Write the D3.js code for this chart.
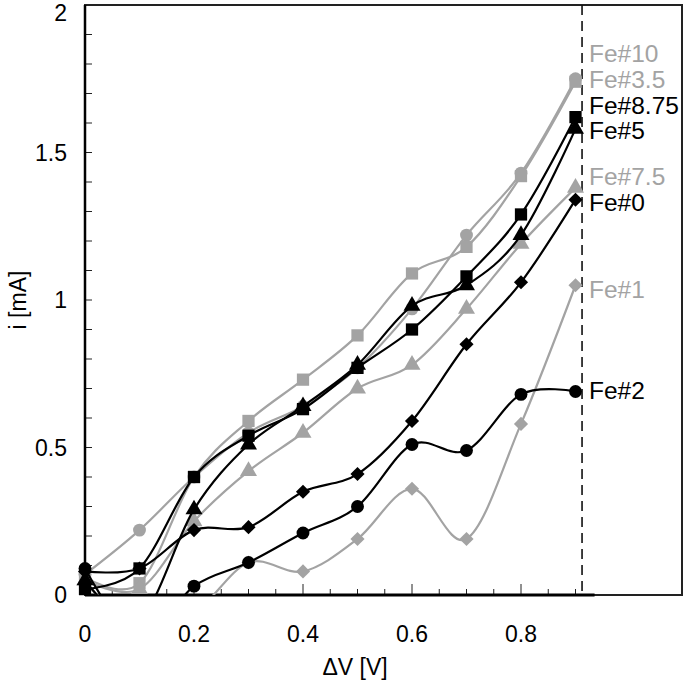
<!DOCTYPE html>
<html><head><meta charset="utf-8">
<script src="https://cdn.jsdelivr.net/npm/d3@7"></script>
<style>body{margin:0;background:#fff}svg{display:block}text{font-family:"Liberation Sans",Arial,sans-serif}</style>
</head><body><svg id="c" width="685" height="683"></svg>
<script>
const xVals = [0, 0.1, 0.2, 0.3, 0.4, 0.5, 0.6, 0.7, 0.8, 0.9];
const fe10  = [0.07, 0.22, 0.40, 0.55, 0.64, 0.77, 0.97, 1.22, 1.43, 1.75];
const fe35  = [0.06, 0.04, 0.40, 0.59, 0.73, 0.88, 1.09, 1.18, 1.42, 1.74];
const fe75  = [0.05, 0.02, 0.25, 0.42, 0.55, 0.70, 0.78, 0.97, 1.19, 1.38];
const fe1   = [0.04, -0.10, -0.06, 0.11, 0.08, 0.19, 0.36, 0.19, 0.58, 1.05];
const fe875 = [0.02, 0.09, 0.40, 0.54, 0.63, 0.77, 0.90, 1.08, 1.29, 1.62];
const fe5   = [0.05, -0.08, 0.29, 0.51, 0.64, 0.78, 0.98, 1.05, 1.22, 1.58];
const fe0   = [0.08, 0.09, 0.22, 0.23, 0.35, 0.41, 0.59, 0.85, 1.06, 1.34];
const fe2   = [0.09, -0.15, 0.03, 0.11, 0.21, 0.30, 0.51, 0.49, 0.68, 0.69];
const seriesNames = ["Fe#10","Fe#3.5","Fe#7.5","Fe#1","Fe#8.75","Fe#5","Fe#0","Fe#2"];
const xTickLabels = [0, 0.2, 0.4, 0.6, 0.8];
const yTickLabels = [0, 0.5, 1, 1.5, 2];
const cutoffV = 0.912;

const GRAY = "#a3a3a3", BLACK = "#000";
const series = [
  {name:seriesNames[0], vals:fe10, color:GRAY, shape:"circle", labelY:53},
  {name:seriesNames[1], vals:fe35, color:GRAY, shape:"square", labelY:79},
  {name:seriesNames[2], vals:fe75, color:GRAY, shape:"triangle", labelY:176},
  {name:seriesNames[3], vals:fe1, color:GRAY, shape:"diamond", labelY:289},
  {name:seriesNames[4], vals:fe875, color:BLACK, shape:"square", labelY:105},
  {name:seriesNames[5], vals:fe5, color:BLACK, shape:"triangle", labelY:130},
  {name:seriesNames[6], vals:fe0, color:BLACK, shape:"diamond", labelY:202},
  {name:seriesNames[7], vals:fe2, color:BLACK, shape:"circle", labelY:390}
];

const L = 85, R = 682, T = 5, B = 595;
const x = d3.scaleLinear().domain([0, (R - L) / 545]).range([L, R]);
const y = d3.scaleLinear().domain([0, 2]).range([B, T]);
const svg = d3.select("#c");

svg.append("defs").append("clipPath").attr("id","clip")
  .append("rect").attr("x",L).attr("y",T).attr("width",R-L).attr("height",B-T);

// ticks
const yMinor = d3.range(0, 2.0001, 0.1);
svg.append("g").selectAll("line").data(yMinor).join("line")
  .attr("x1",L).attr("x2",L+7).attr("y1",d=>y(d)).attr("y2",d=>y(d))
  .attr("stroke","#222").attr("stroke-width",1);
const xMinor = d3.range(0.05, 0.9001, 0.05);
svg.append("g").selectAll("line").data(xMinor).join("line")
  .attr("x1",d=>x(d)).attr("x2",d=>x(d)).attr("y1",B)
  .attr("y2",d=> (Math.abs(d*5 - Math.round(d*5))<1e-6) ? B-11 : B-6)
  .attr("stroke","#222").attr("stroke-width",1);

// frame
svg.append("rect").attr("x",L).attr("y",T).attr("width",R-L).attr("height",B-T)
  .attr("fill","none").attr("stroke","#222").attr("stroke-width",2);
svg.append("line").attr("x1",L).attr("x2",x(0.935)).attr("y1",B).attr("y2",B)
  .attr("stroke","#000").attr("stroke-width",3);
svg.append("line").attr("x1",L).attr("x2",L).attr("y1",T).attr("y2",B)
  .attr("stroke","#000").attr("stroke-width",2.5);

// tick labels
svg.append("g").selectAll("text").data(xTickLabels).join("text")
  .attr("x",d=>x(d)).attr("y",642).attr("text-anchor","middle")
  .attr("font-size",23).text(d=>d);
svg.append("g").selectAll("text").data(yTickLabels).join("text")
  .attr("x",67).attr("y",d=>Math.max(y(d)+8, 21)).attr("text-anchor","end")
  .attr("font-size",23).text(d=>d);
svg.append("text").attr("x",355).attr("y",675).attr("text-anchor","middle")
  .attr("font-size",23).text("ΔV [V]");
svg.append("text").attr("transform","translate(26,300) rotate(-90)").attr("text-anchor","middle")
  .attr("font-size",23).text("i [mA]");

// cutoff dashed line
svg.append("line").attr("x1",x(cutoffV)).attr("x2",x(cutoffV)).attr("y1",T).attr("y2",B)
  .attr("stroke","#111").attr("stroke-width",1.6).attr("stroke-dasharray","10,6");

const line = d3.line().x(d=>x(d[0])).y(d=>y(d[1])).curve(d3.curveCardinal.tension(0));
const symSize = {circle:130, square:150, triangle:125, diamond:100};
const symType = {circle:d3.symbolCircle, square:d3.symbolSquare, triangle:d3.symbolTriangle, diamond:d3.symbolSquare};

series.forEach(s=>{
  const pts = xVals.map((v,i)=>[v, s.vals[i]]);
  const g = svg.append("g");
  g.append("path").attr("d", line(pts)).attr("fill","none").attr("stroke",s.color)
    .attr("stroke-width",2.2).attr("clip-path","url(#clip)");
  g.selectAll("path.m").data(pts.filter(p=>p[1]>=0)).join("path").attr("class","m")
    .attr("transform",p=>`translate(${x(p[0])},${y(p[1])})` + (s.shape==="diamond" ? " rotate(45)" : ""))
    .attr("d", d3.symbol().type(symType[s.shape]).size(symSize[s.shape]))
    .attr("fill",s.color);
  svg.append("text").attr("x",589).attr("y",s.labelY+9).attr("font-size",24.5)
    .attr("fill",s.color).text(s.name);
});
</script></body></html>
